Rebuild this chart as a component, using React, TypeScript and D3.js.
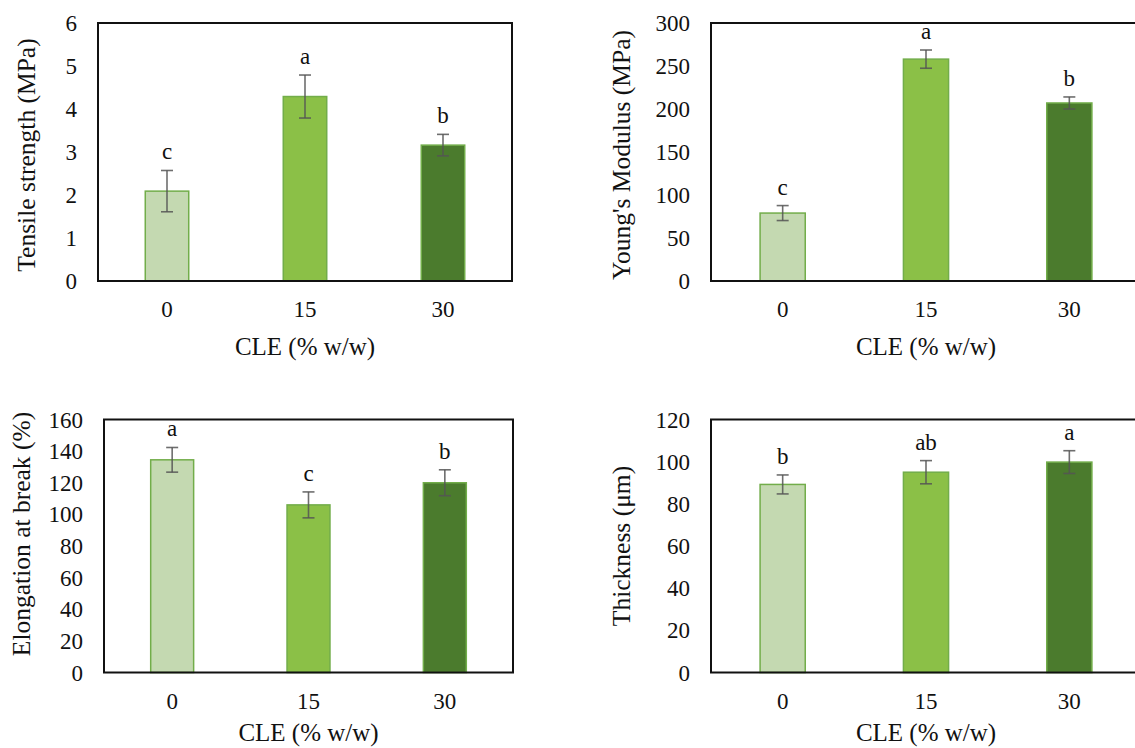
import React from "react";
import * as d3 from "d3";

// ---- data ----
const categories = ["0", "15", "30"];

const tensileValues = [2.09, 4.29, 3.16];
const tensileErrors = [0.48, 0.5, 0.25];
const tensileLetters = ["c", "a", "b"];
const tensileTicks = [0, 1, 2, 3, 4, 5, 6];

const youngValues = [79, 258, 207];
const youngErrors = [8.7, 10.6, 7];
const youngLetters = ["c", "a", "b"];
const youngTicks = [0, 50, 100, 150, 200, 250, 300];

const elongValues = [134.5, 106, 120];
const elongErrors = [7.8, 8.2, 8.2];
const elongLetters = ["a", "c", "b"];
const elongTicks = [0, 20, 40, 60, 80, 100, 120, 140, 160];

const thickValues = [89.2, 95, 99.8];
const thickErrors = [4.5, 5.5, 5.4];
const thickLetters = ["b", "ab", "a"];
const thickTicks = [0, 20, 40, 60, 80, 100, 120];

const xTitle = "CLE (% w/w)";

// ---- styles ----
const FONT = "'Liberation Serif', 'Times New Roman', serif";
const barFills = ["#c4d9b1", "#8bc047", "#4b7b2d"];
const barStroke = "#72ad4a";

type PanelProps = {
  values: number[];
  errors: number[];
  letters: string[];
  ticks: number[];
  yTitle: string;
  left: number;
  right: number;
  top: number;
  bottom: number;
  titleX: number;
  titleCY: number;
  xTitleDy: number;
};

function Panel(p: PanelProps) {
  const x = d3
    .scaleBand<string>()
    .domain(categories)
    .range([p.left, p.right])
    .paddingInner(0.685)
    .paddingOuter(0.3425);
  const yMax = p.ticks[p.ticks.length - 1];
  const y = d3.scaleLinear().domain([0, yMax]).range([p.bottom, p.top]);
  const bw = x.bandwidth();
  const cap = 6;

  return (
    <g>
      {categories.map((c, i) => (
        <rect
          key={"b" + c}
          x={x(c)!}
          y={y(p.values[i])}
          width={bw}
          height={y(0) - y(p.values[i])}
          fill={barFills[i]}
          stroke={barStroke}
          strokeWidth={1.5}
        />
      ))}
      {categories.map((c, i) => {
        const cx = x(c)! + bw / 2;
        const yt = y(p.values[i] + p.errors[i]);
        const yb = y(p.values[i] - p.errors[i]);
        return (
          <g key={"e" + c} stroke="#555" strokeWidth={1.6} strokeOpacity={0.85}>
            <line x1={cx} x2={cx} y1={yt} y2={yb} />
            <line x1={cx - cap} x2={cx + cap} y1={yt} y2={yt} />
            <line x1={cx - cap} x2={cx + cap} y1={yb} y2={yb} />
          </g>
        );
      })}
      {categories.map((c, i) => (
        <text
          key={"l" + c}
          x={x(c)! + bw / 2}
          y={y(p.values[i] + p.errors[i]) - 11}
          textAnchor="middle"
          fontFamily={FONT}
          fontSize={23}
          fill="#111"
        >
          {p.letters[i]}
        </text>
      ))}
      <rect
        x={p.left}
        y={p.top}
        width={p.right - p.left}
        height={p.bottom - p.top}
        fill="none"
        stroke="#111"
        strokeWidth={2}
      />
      {p.ticks.map((t) => (
        <text
          key={"yt" + t}
          x={p.left - 21}
          y={y(t)}
          dy="0.35em"
          textAnchor="end"
          fontFamily={FONT}
          fontSize={23}
          fill="#111"
        >
          {t}
        </text>
      ))}
      {categories.map((c) => (
        <text
          key={"xt" + c}
          x={x(c)! + bw / 2}
          y={p.bottom + 28}
          dy="0.35em"
          textAnchor="middle"
          fontFamily={FONT}
          fontSize={23}
          fill="#111"
        >
          {c}
        </text>
      ))}
      <text
        x={(p.left + p.right) / 2}
        y={p.bottom + p.xTitleDy}
        textAnchor="middle"
        fontFamily={FONT}
        fontSize={25}
        fill="#111"
      >
        {xTitle}
      </text>
      <text
        transform={`translate(${p.titleX},${p.titleCY}) rotate(-90)`}
        textAnchor="middle"
        fontFamily={FONT}
        fontSize={25.5}
        fill="#111"
      >
        {p.yTitle}
      </text>
    </g>
  );
}

export default function App() {
  return (
    <svg
      width={1135}
      height={748}
      viewBox="0 0 1135 748"
      style={{ position: "absolute", left: 0, top: 0, display: "block", background: "#fff" }}
    >
      <rect x={0} y={0} width={1135} height={748} fill="#fff" />
      <Panel
        values={tensileValues}
        errors={tensileErrors}
        letters={tensileLetters}
        ticks={tensileTicks}
        yTitle="Tensile strength (MPa)"
        left={98}
        right={512}
        top={23}
        bottom={281}
        titleX={35}
        titleCY={155}
        xTitleDy={74}
      />
      <Panel
        values={youngValues}
        errors={youngErrors}
        letters={youngLetters}
        ticks={youngTicks}
        yTitle="Young's Modulus (MPa)"
        left={711}
        right={1141}
        top={23}
        bottom={281}
        titleX={630}
        titleCY={155}
        xTitleDy={74}
      />
      <Panel
        values={elongValues}
        errors={elongErrors}
        letters={elongLetters}
        ticks={elongTicks}
        yTitle="Elongation at break (%)"
        left={104}
        right={513}
        top={419.5}
        bottom={672.5}
        titleX={30}
        titleCY={534}
        xTitleDy={68}
      />
      <Panel
        values={thickValues}
        errors={thickErrors}
        letters={thickLetters}
        ticks={thickTicks}
        yTitle="Thickness (μm)"
        left={711}
        right={1141}
        top={419.5}
        bottom={672.5}
        titleX={630}
        titleCY={546}
        xTitleDy={68}
      />
    </svg>
  );
}
